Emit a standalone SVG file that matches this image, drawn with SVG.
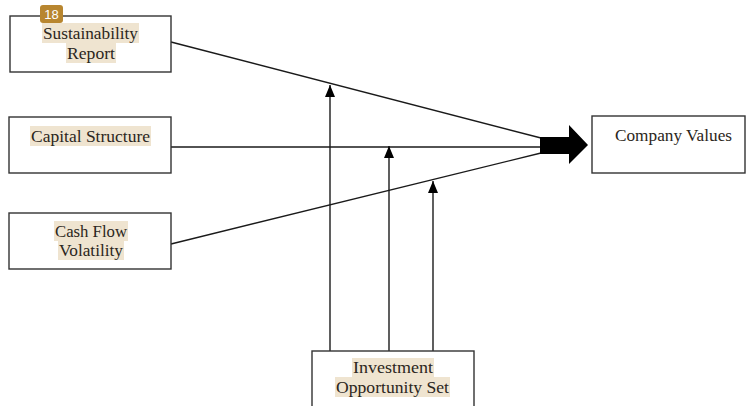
<svg xmlns="http://www.w3.org/2000/svg" width="747" height="406" viewBox="0 0 747 406">
<style>
.box{fill:#fff;stroke:#333;stroke-width:1.4}
.hl{fill:#efe4d0}
.t{font-family:"Liberation Serif","Times New Roman",serif;font-size:16.5px;fill:#2b2620;text-anchor:middle}
.ln{stroke:#1a1a1a;stroke-width:1.4;fill:none}
</style>
<defs>
<marker id="ah" markerWidth="12" markerHeight="10" refX="12" refY="5" orient="auto" markerUnits="userSpaceOnUse" viewBox="0 0 12 10">
<path d="M0,0 L12,5 L0,10 Z" fill="#000"/>
</marker>
</defs>
<g id="connectors">
<line class="ln" x1="171" y1="42" x2="541" y2="138"/>
<line class="ln" x1="171" y1="147" x2="541" y2="147"/>
<line class="ln" x1="171" y1="244" x2="541" y2="153"/>
<line class="ln" x1="330" y1="351" x2="330" y2="85" marker-end="url(#ah)"/>
<line class="ln" x1="389" y1="351" x2="389" y2="146" marker-end="url(#ah)"/>
<line class="ln" x1="433" y1="351" x2="433" y2="181" marker-end="url(#ah)"/>
<path d="M540,137 L569,137 L569,125 L588,145 L569,164 L569,154 L540,154 Z" fill="#000"/>
</g>
<g id="sustainability">
<rect class="box" x="10" y="16" width="161" height="56"/>
<rect class="hl" x="42" y="23" width="97" height="20"/>
<rect class="hl" x="66" y="43" width="50" height="20"/>
<text class="t" x="90.5" y="39" textLength="95" lengthAdjust="spacingAndGlyphs">Sustainability</text>
<text class="t" x="91" y="59" textLength="48" lengthAdjust="spacingAndGlyphs">Report</text>
</g>
<g id="badge">
<rect x="40" y="5" width="23" height="18" rx="3" fill="#b8862f"/>
<text x="51.5" y="19" font-family="Liberation Sans,Arial,sans-serif" font-size="13" fill="#fff" text-anchor="middle">18</text>
</g>
<g id="capital">
<rect class="box" x="9" y="117" width="162" height="56"/>
<rect class="hl" x="30" y="126" width="121" height="20"/>
<text class="t" x="90.5" y="142" textLength="119" lengthAdjust="spacingAndGlyphs">Capital Structure</text>
</g>
<g id="cashflow">
<rect class="box" x="9" y="213" width="162" height="56"/>
<rect class="hl" x="54" y="221" width="74" height="20"/>
<rect class="hl" x="58" y="241" width="66" height="19"/>
<text class="t" x="91" y="237" textLength="72" lengthAdjust="spacingAndGlyphs">Cash Flow</text>
<text class="t" x="91" y="256" textLength="64" lengthAdjust="spacingAndGlyphs">Volatility</text>
</g>
<g id="company">
<rect class="box" x="592" y="116" width="153" height="57"/>
<text class="t" x="673.5" y="141" textLength="117" lengthAdjust="spacingAndGlyphs">Company Values</text>
</g>
<g id="investment">
<rect class="box" x="312" y="351" width="162" height="60"/>
<rect class="hl" x="352" y="358" width="82" height="19"/>
<rect class="hl" x="335" y="377" width="115" height="20"/>
<text class="t" x="393" y="373" textLength="80" lengthAdjust="spacingAndGlyphs">Investment</text>
<text class="t" x="392.5" y="393" textLength="113" lengthAdjust="spacingAndGlyphs">Opportunity Set</text>
</g>
</svg>
